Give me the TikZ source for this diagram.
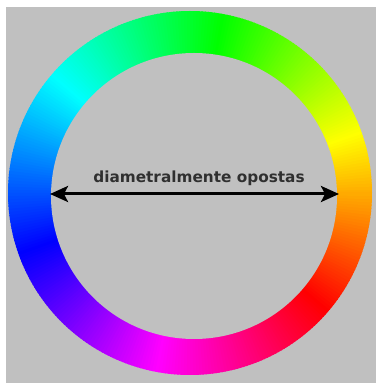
\documentclass[tikz,border=0pt]{standalone}
\usepackage{fontspec}
\setmainfont{DejaVu Sans}
\usetikzlibrary{arrows.meta}
\definecolor{bggrey}{RGB}{192,192,192}
\definecolor{labelgrey}{RGB}{48,48,48}
\begin{document}
\begin{tikzpicture}[x=1pt,y=1pt,
  label text/.style={text=labelgrey,font=\bfseries\fontsize{15.3}{16}\selectfont,inner sep=0pt,anchor=base},
  span arrow/.style={line width=3pt,{Stealth[length=18pt,width=16pt,inset=4pt]}-{Stealth[length=18pt,width=16pt,inset=4pt]}}]
  % page: white frame with grey panel
  \useasboundingbox (0,0) rectangle (376,383);
  \fill[white] (0,0) rectangle (376,383);
  \fill[bggrey] (6,0) rectangle (376,376);
  % hue ring, counter-clockwise, hue = angle + 41
  \coordinate (c) at (190,190);
  \foreach \a in {0,...,359}{
    \pgfmathsetmacro{\h}{mod(\a+41,360)}
    \definecolor{huec}{Hsb}{\h,1,1}
    \fill[huec] (c) -- ++(\a:182) arc[start angle=\a,end angle=\a+1.4,radius=182] -- cycle;
  }
  % inner grey disc
  \fill[bggrey] (194,187) circle[radius=143];
  % arrow between opposite points and its label
  \coordinate (l) at (50,189);
  \coordinate (r) at (339,189);
  \draw[span arrow] (l) -- (r);
  \node[label text] (t) at (199,200) {diametralmente opostas};
\end{tikzpicture}
\end{document}
